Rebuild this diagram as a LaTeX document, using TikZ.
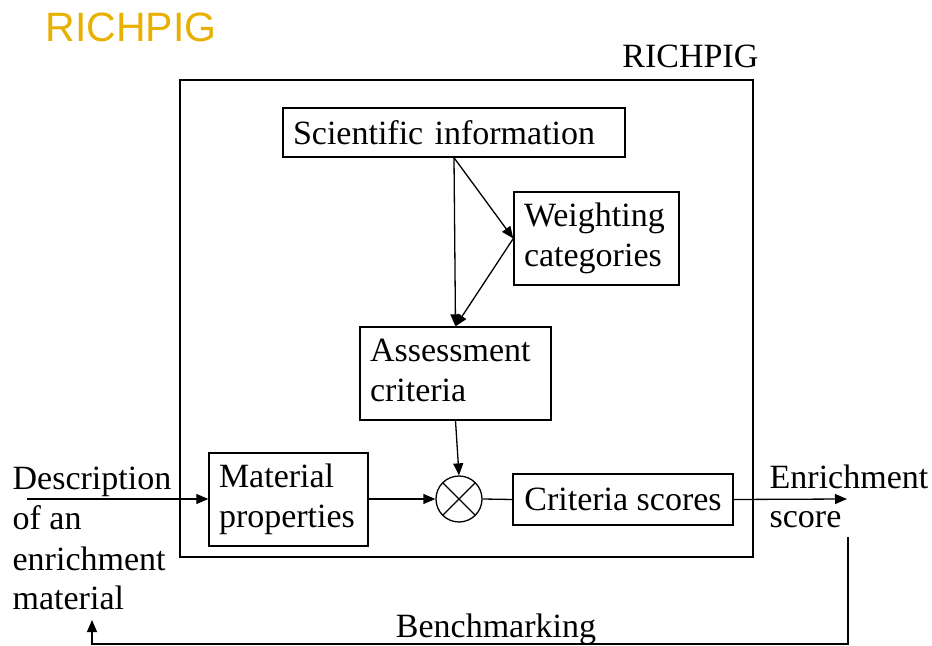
\documentclass[tikz,border=0pt]{standalone}
\usepackage{fontspec}
\setmainfont{Liberation Serif}
\newfontfamily\titlefont{Liberation Sans}
\usetikzlibrary{arrows.meta}
\definecolor{richgold}{RGB}{232,176,0}
\tikzset{
  blk/.style={draw, line width=0.7pt, align=left, inner xsep=5pt, inner ysep=0pt},
  tallblk/.style={blk, minimum height=46.5pt, execute at begin node=\strut, execute at end node=\strut},
  lbl/.style={inner sep=0pt, align=left},
}
\begin{document}
\begin{tikzpicture}[x=0.5pt, y=-0.5pt, line width=0.65pt, >={Triangle[length=6pt,width=5pt]},
  every node/.style={font=\fontsize{17}{20}\selectfont}]
    \useasboundingbox (0,0) rectangle (932,646);

        % Title
            \node[lbl, anchor=base west, text=richgold, font=\titlefont\fontsize{20.5}{24}\selectfont] (title) at (45,42) {RICHPIG};

            % Outer frame and its label
            \node[draw, minimum width=286.5pt, minimum height=238.5pt] (frame) at (466.5,318.5) {};
            \node[lbl, anchor=base east] (framelbl) at (759,68) {RICHPIG};

            % Blocks inside the frame
            \node[blk, text width=161pt, minimum height=24.5pt] (sci) at (454,132.5) {Scientific information};
            \node[tallblk, text width=72.5pt] (weight) at (596.5,238.5) {Weighting\\categories};
            \node[tallblk, text width=85.5pt] (assess) at (455.5,373.5) {Assessment\\criteria};
            \node[tallblk, text width=69.5pt] (mat) at (288.5,499.5) {Material\\properties};
            \node[blk, minimum width=110pt, minimum height=25.5pt] (crit) at (623,499.5) {Criteria scores};

            % Multiplier
            \node[draw, circle, minimum size=23pt, inner sep=0pt,
              path picture={\draw (path picture bounding box.north west) -- (path picture bounding box.south east)
                (path picture bounding box.north east) -- (path picture bounding box.south west);}] (mult) at (459,499) {};

            % Input and output texts
            \node[lbl, anchor=base west] (desc) at (12,610) {Description\\of an\\enrichment\\material};
            \node[lbl, anchor=base west] (score) at (769,528) {Enrichment\\score};
            \node[lbl, anchor=base] (bench) at (496,637) {Benchmarking};

            \coordinate (in) at (27,499);
            \coordinate (out) at (847,499);
            \coordinate (fbstart) at (848,537);
            \coordinate (fbend) at (92,620);

            % Flow through the blocks
            \draw[->] (sci.south) -- (assess.north);
            \draw[->] (sci.south) -- (weight.west);
            \draw[->] (weight.west) -- (assess.north);
            \draw[->] (assess.south) -- (mult.north);
            \draw[->] (in) -- (mat.west |- in);
            \draw[->] (mat.east |- mult) -- (mult.west);
            \draw (mult.east) -- (crit.west);
            \draw[->] (crit.east) -- (out);

            % Benchmarking loop
            \draw[->] (fbstart) -- (848,644) -| (fbend);

    \end{tikzpicture}
\end{document}
